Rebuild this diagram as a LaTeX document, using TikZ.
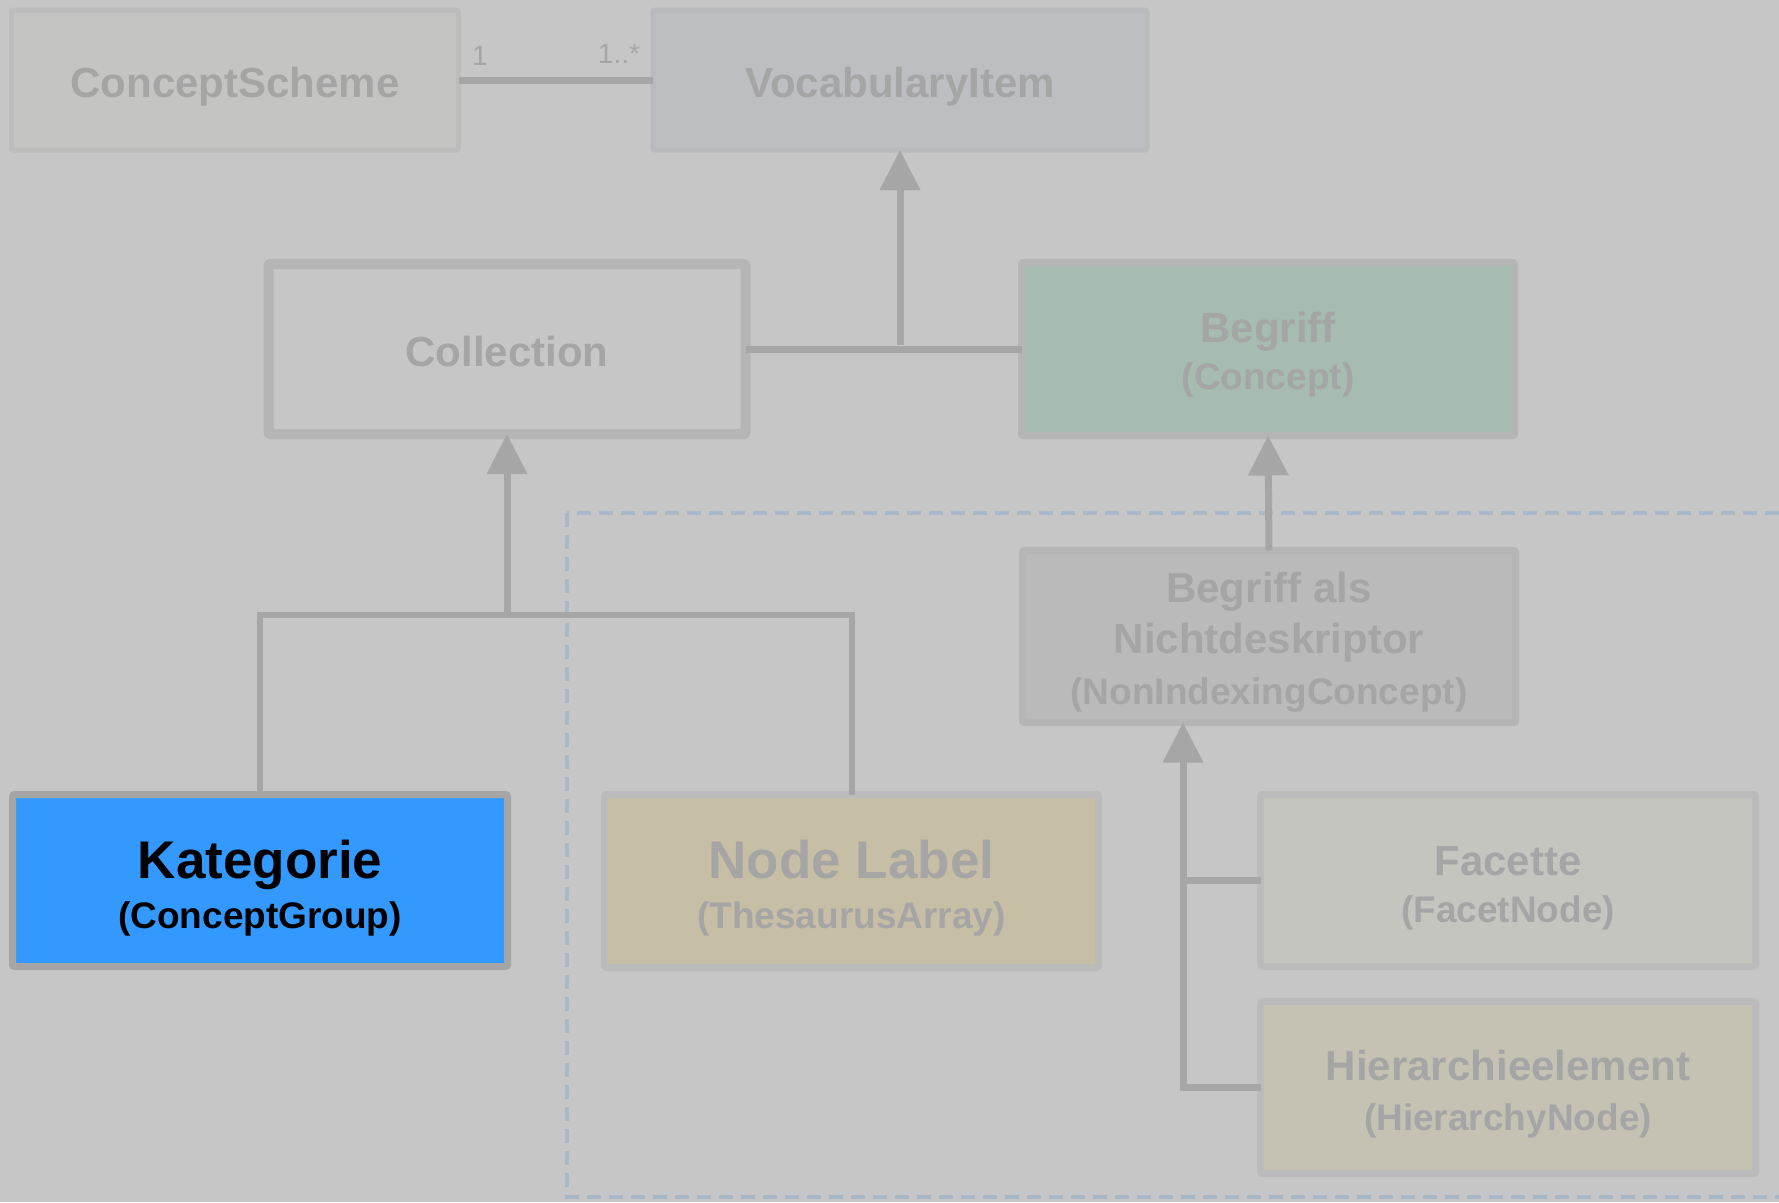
\documentclass[tikz,border=0pt]{standalone}
\usepackage{fontspec}
\setmainfont{Liberation Sans}
\usetikzlibrary{arrows.meta,calc}
\definecolor{bg}{HTML}{C6C6C6}
\definecolor{txt}{HTML}{A5A5A5}
\definecolor{conncol}{HTML}{A6A6A6}
\definecolor{dashcol}{HTML}{A9B8C8}
\definecolor{csfill}{HTML}{C4C4C2}
\definecolor{csdraw}{HTML}{BCBCBC}
\definecolor{vifill}{HTML}{BDBEC2}
\definecolor{vidraw}{HTML}{B9BABE}
\definecolor{boxdraw}{HTML}{B5B5B5}
\definecolor{begfill}{HTML}{A6BCB0}
\definecolor{nicfill}{HTML}{BABABA}
\definecolor{katfill}{HTML}{3399FF}
\definecolor{katdraw}{HTML}{A5A5A5}
\definecolor{nlfill}{HTML}{C6BFA6}
\definecolor{lightdraw}{HTML}{BBBBBB}
\definecolor{facfill}{HTML}{C5C5C0}
\definecolor{hiefill}{HTML}{C5C2B4}
% \subf{baselineskip}: subtitle font
\newcommand{\subf}[1]{\fontsize{37}{#1}\selectfont}
% \tp{A}: first line height; \bt{D}: last line depth
\newcommand{\tp}[1]{\rule{0pt}{#1pt}}
\newcommand{\bt}[1]{\rule[-#1pt]{0pt}{1pt}}
\begin{document}
\begin{tikzpicture}[x=1pt,y=-1pt,
  box/.style={draw, rounded corners=2pt, align=center, inner sep=0pt, outer sep=0pt,
    text=txt, font=\bfseries\fontsize{42}{47}\selectfont},
  conn/.style={draw=conncol, line width=7pt},
  thinconn/.style={draw=conncol, line width=6pt},
  arr/.style={conn, -{Triangle[width=39pt,length=40pt]}},
  mult/.style={text=txt, font=\fontsize{28}{30}\selectfont, inner sep=0pt, anchor=base},
  dashbox/.style={draw=dashcol, line width=4pt, dash pattern=on 14pt off 8pt}
]
\useasboundingbox (0,0) rectangle (1779,1202);
\fill[bg] (0,0) rectangle (1779,1202);
\begin{scope}
  \clip (0,0) rectangle (1779,1202);
  \draw[dashbox] (567,513) rectangle (1820,1197);
\end{scope}

% nodes
\node[box, fill=csfill, draw=csdraw, line width=5pt, minimum width=447pt, minimum height=140pt] (cs) at (235,80) {\rule[-16pt]{0pt}{66pt}ConceptScheme};
\node[box, fill=vifill, draw=vidraw, line width=5pt, minimum width=494pt, minimum height=140pt] (vi) at (900,80) {\rule[-16pt]{0pt}{66pt}VocabularyItem};
\node[box, fill=bg, draw=boxdraw, line width=10pt, minimum width=477pt, minimum height=170pt] (col) at (507,349) {\rule[-16pt]{0pt}{66pt}Collection};
\node[box, fill=begfill, draw=boxdraw, line width=7pt, minimum width=493pt, minimum height=173pt] (beg) at (1268,349)
  {\tp{49}Begriff\\\subf{47}(Concept)\bt{16}};
\node[box, fill=nicfill, draw=boxdraw, line width=7pt, minimum width=493pt, minimum height=172pt,
  font=\bfseries\fontsize{42}{51}\selectfont] (nic) at (1269,636.5)
  {\tp{50}Begriff als\\Nichtdeskriptor\\\subf{51}(NonIndexingConcept)\bt{16}};
\node[box, fill=katfill, draw=katdraw, line width=7pt, minimum width=495pt, minimum height=172pt,
  text=black, font=\bfseries\fontsize{53}{50}\selectfont] (kat) at (260,880.5)
  {\tp{61}Kategorie\\\subf{50}(ConceptGroup)\bt{16}};
\node[box, fill=nlfill, draw=lightdraw, line width=7pt, minimum width=494pt, minimum height=173pt,
  font=\bfseries\fontsize{53}{50}\selectfont] (nl) at (851.5,881)
  {\tp{61}Node Label\\\subf{50}(ThesaurusArray)\bt{16}};
\node[box, fill=facfill, draw=lightdraw, line width=7pt, minimum width=495pt, minimum height=172pt] (fac) at (1508,880.5)
  {\tp{52}Facette\\\subf{47}(FacetNode)\bt{16}};
\node[box, fill=hiefill, draw=lightdraw, line width=7pt, minimum width=495pt, minimum height=172pt,
  font=\bfseries\fontsize{42}{50}\selectfont] (hie) at (1508,1087.5)
  {\tp{51}Hierarchieelement\\\subf{50}(HierarchyNode)\bt{16}};

% association
\draw[conn] (cs.east) -- (vi.west);
\node[mult] (m1) at ($(cs.east)+(21.5,-15)$) {1};
\node[mult] (m2) at ($(vi.west)+(-34,-17)$) {1..*};

% generalisations
\coordinate (j1) at ($(vi.south)+(0,195)$);
\draw[conn] (col.east) -- (beg.west);
\draw[arr] (j1) -- (vi.south);
\draw[arr] (nic.north) -- (beg.south);

\coordinate (j2) at ($(col.south)+(0,181)$);
\draw[thinconn] (kat.north) |- (j2) -| (nl.north);
\draw[arr] (j2) -- (col.south);

\coordinate (t3) at ($(nic.south)+(-86,0)$);
\draw[conn] (fac.west) -- (fac.west -| t3);
\draw[arr] (hie.west) -| (t3);
\end{tikzpicture}
\end{document}
